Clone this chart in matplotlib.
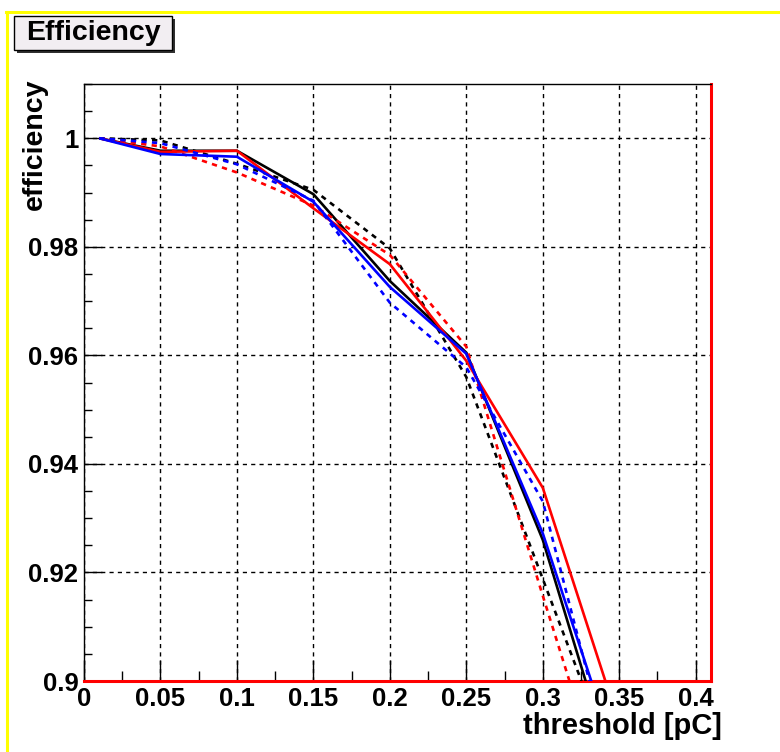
"""Trigger efficiency versus threshold for three channels, solid and dashed variants."""

import matplotlib

matplotlib.use("Agg")
import matplotlib.pyplot as plt
from matplotlib.lines import Line2D
from matplotlib.patches import Rectangle
from matplotlib.ticker import FixedLocator, MultipleLocator

# threshold scan points [pC]
threshold = [0.01, 0.05, 0.10, 0.15, 0.20, 0.25, 0.30, 0.35]

eff_black = [1.0, 0.9977, 0.9977, 0.9897, 0.9737, 0.9605, 0.9260, 0.8796]
eff_black_dash = [1.0, 0.9996, 0.9953, 0.9905, 0.9797, 0.9560, 0.9188, 0.8816]
eff_red = [1.0, 0.9975, 0.9977, 0.9871, 0.9768, 0.9590, 0.9356, 0.8921]
eff_red_dash = [1.0, 0.9985, 0.9937, 0.9876, 0.9785, 0.9616, 0.9157, 0.8707]
eff_blue = [1.0, 0.9971, 0.9966, 0.9883, 0.9726, 0.9603, 0.9272, 0.8843]
eff_blue_dash = [1.0, 0.9991, 0.9952, 0.9885, 0.9697, 0.9578, 0.9331, 0.8788]

x_ticks = [0, 0.05, 0.1, 0.15, 0.2, 0.25, 0.3, 0.35, 0.4]
x_tick_labels = ["0", "0.05", "0.1", "0.15", "0.2", "0.25", "0.3", "0.35", "0.4"]
y_ticks = [0.9, 0.92, 0.94, 0.96, 0.98, 1.0]
y_tick_labels = ["0.9", "0.92", "0.94", "0.96", "0.98", "1"]

FONT = ["Liberation Sans", "DejaVu Sans"]


def main() -> None:
    plt.rcParams["font.family"] = FONT
    plt.rcParams["font.weight"] = "bold"

    fig = plt.figure(figsize=(7.8, 7.52), dpi=100)
    fig.patch.set_facecolor("white")
    W, H = 780.0, 752.0

    ax = fig.add_axes([84 / W, 1 - 681 / H, 627 / W, 597 / H])

    series = [
        (eff_black, "black", "-"),
        (eff_black_dash, "black", "--"),
        (eff_red, "#ff0000", "-"),
        (eff_red_dash, "#ff0000", "--"),
        (eff_blue, "#0000ff", "-"),
        (eff_blue_dash, "#0000ff", "--"),
    ]
    for values, color, style in series:
        line, = ax.plot(threshold, values, color=color, lw=1.9, linestyle=style,
                        solid_capstyle="butt", zorder=3)
        if style == "--":
            line.set_dashes((2.0, 2.0))

    ax.set_xlim(0, 0.41)
    ax.set_ylim(0.9, 1.01)

    ax.xaxis.set_major_locator(FixedLocator(x_ticks))
    ax.set_xticklabels(x_tick_labels)
    ax.xaxis.set_minor_locator(MultipleLocator(0.025))
    ax.yaxis.set_major_locator(FixedLocator(y_ticks))
    ax.set_yticklabels(y_tick_labels)
    ax.yaxis.set_minor_locator(MultipleLocator(0.005))

    ax.tick_params(axis="x", which="major", direction="in", length=15, width=1,
                   labelsize=18.5, pad=4)
    ax.tick_params(axis="x", which="minor", direction="in", length=7.5, width=1)
    ax.tick_params(axis="y", which="major", direction="in", length=13, width=1,
                   labelsize=18.5, pad=4)
    ax.tick_params(axis="y", which="minor", direction="in", length=6, width=1)
    for lab in ax.get_xticklabels() + ax.get_yticklabels():
        lab.set_fontweight("bold")

    ax.grid(True, which="major", color="black", linestyle=(0, (3, 3)), lw=1.0)

    for side in ("top", "left"):
        ax.spines[side].set_color("black")
        ax.spines[side].set_linewidth(1.0)
    for side in ("bottom", "right"):
        ax.spines[side].set_color("#ff0000")
        ax.spines[side].set_linewidth(2.2)

    # axis titles, ROOT style: right/top aligned with the frame
    fig.text(722 / W, 1 - 726 / H, "threshold [pC]", ha="right", va="center",
             fontsize=21, fontweight="bold")
    fig.text(35 / W, 1 - 78 / H, "efficiency", ha="center", va="top",
             rotation=90, fontsize=20.5, fontweight="bold")

    # canvas border lines
    fig.add_artist(Line2D([6 / W, 1.0], [1 - 11.5 / H, 1 - 11.5 / H],
                          color="#ffff00", lw=2.2, transform=fig.transFigure))
    fig.add_artist(Line2D([7 / W, 7 / W], [0.0, 1 - 11.5 / H],
                          color="#ffff00", lw=2.2, transform=fig.transFigure))

    # title box with drop shadow
    fig.add_artist(Rectangle((17 / W, 1 - 53 / H), 158 / W, 34 / H,
                             transform=fig.transFigure, facecolor="#303030",
                             edgecolor="none"))
    fig.add_artist(Rectangle((14 / W, 1 - 50 / H), 158 / W, 34 / H,
                             transform=fig.transFigure, facecolor="#f2eef2",
                             edgecolor="black", lw=1.0))
    fig.text(93 / W, 1 - 33 / H, "Efficiency", ha="center", va="center",
             fontsize=20.5, fontweight="bold")

    fig.savefig("out.png", dpi=100)
    plt.close(fig)


if __name__ == "__main__":
    main()
